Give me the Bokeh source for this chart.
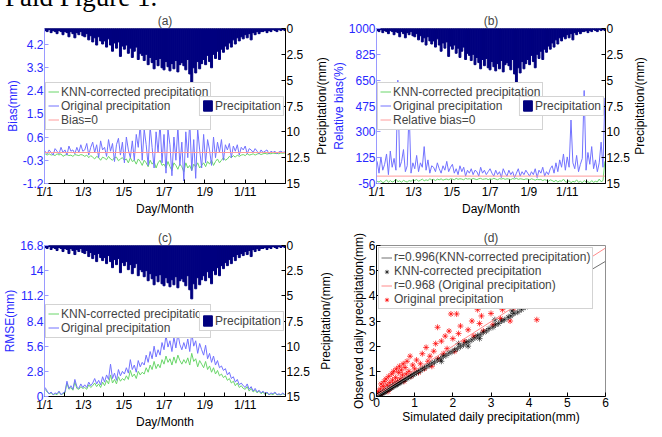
from bokeh.plotting import figure
from bokeh.models import Range1d, LinearAxis, FixedTicker, Legend, LegendItem, Div, Title
from bokeh.layouts import gridplot, column
from bokeh.embed import file_html
from bokeh.resources import INLINE

# ---------------- data ----------------
days = list(range(1, 366, 3))  # sampled days of year
month_starts = [0, 31, 59, 90, 120, 151, 181, 212, 243, 273, 304, 334]
month_labels = ["1/1", "", "1/3", "", "1/5", "", "1/7", "", "1/9", "", "1/11", ""]

precip_ticks = [0, 2.5, 5, 7.5, 10, 12.5, 15]
precip_labels = ["0", "2.5", "5", "7.5", "10", "12.5", "15"]
bias_ticks = [-1.2, -0.3, 0.6, 1.5, 2.4, 3.3, 4.2]
bias_labels = ["-1.2", "-0.3", "0.6", "1.5", "2.4", "3.3", "4.2"]
bias_range = [-1.2, 4.8]
rb_ticks = [-50, 125, 300, 475, 650, 825, 1000]
rb_labels = ["-50", "125", "300", "475", "650", "825", "1000"]
rb_range = [-50, 1000]
rmse_ticks = [0, 2.8, 5.6, 8.4, 11.2, 14, 16.8]
rmse_labels = ["0", "2.8", "5.6", "8.4", "11.2", "14", "16.8"]
rmse_range = [0, 16.8]
scat_ticks = [0, 1, 2, 3, 4, 5, 6]
ref_level = 0

precip = [0.2, 0.3, 0.1, 0.4, 0.2, 0.3, 0.5, 0.2, 0.3, 0.6,
          0.3, 0.4, 0.8, 0.3, 0.5, 0.9, 0.4, 0.6, 0.3, 0.7,
          0.8, 0.5, 1.1, 0.7, 1.3, 0.9, 1.6, 0.8, 1.2, 1.5,
          1.2, 1.8, 1.0, 1.6, 2.2, 1.4, 1.9, 1.3, 2.7, 1.7,
          2.0, 1.6, 2.4, 1.9, 2.8, 2.2, 1.8, 3.0, 2.4, 2.6,
          3.1, 2.5, 3.5, 2.8, 3.3, 3.9, 3.0, 3.6, 2.9, 3.8,
          4.0, 3.2, 3.7, 4.1, 3.4, 3.9, 3.1, 4.2, 3.5, 3.3,
          3.6, 4.0, 3.0, 4.4, 5.3, 3.8, 4.3, 3.2, 3.9, 3.4,
          3.0, 3.5, 2.6, 3.2, 3.8, 2.5, 2.9, 2.2, 3.0, 2.0,
          2.3, 1.7, 2.0, 1.4, 1.8, 1.1, 1.5, 0.9, 1.2, 0.8,
          1.0, 0.6, 0.9, 0.5, 1.1, 0.4, 0.6, 0.3, 0.5, 0.3,
          0.3, 0.2, 0.4, 0.2, 0.3, 0.1, 0.2, 0.3, 0.1, 0.2, 0.1, 0.2]

bias_orig = [0.05, -0.05, 0.1, 0.0, -0.1, 0.15, 0.05, -0.05, 0.2, 0.0,
             0.1, -0.1, 0.25, 0.05, 0.1, -0.05, 0.2, 0.0, 0.3, 0.05,
             0.1, 0.35, -0.1, 0.2, 0.4, 0.0, 0.3, -0.2, 0.45, 0.1,
             0.2, -0.15, 0.5, 0.05, 0.35, -0.35, 0.3, 0.55, -0.1, 0.4,
             -0.4, 0.6, 0.1, -0.2, 0.45, -0.3, 0.7, 0.2, 1.1, -0.3,
             0.9, 0.3, -0.5, 1.0, 0.2, -0.6, 0.8, 0.0, 1.15, -0.4,
             0.7, -0.8, 0.9, 0.3, -0.9, 0.6, -0.3, 1.0, -0.5, 0.4,
             -1.1, 0.8, -0.2, 1.2, -0.7, 0.5, -1.0, 0.9, 0.1, -0.6,
             0.7, -0.4, 0.5, 0.1, -0.5, 0.6, -0.2, 0.4, 0.0, 0.5,
             -0.3, 0.3, 0.1, 0.35, -0.2, 0.25, 0.05, 0.3, -0.1, 0.2,
             0.1, 0.25, -0.05, 0.15, 0.1, 0.0, 0.15, 0.05, -0.05, 0.1,
             0.0, 0.05, 0.1, -0.05, 0.05, 0.0, 0.05, -0.05, 0.02, 0.05, 0.0, 0.03]

bias_knn = [-0.05, -0.1, -0.05, -0.1, -0.08, -0.12, -0.05, -0.1, -0.05, -0.15,
            -0.1, -0.08, -0.12, -0.1, -0.15, -0.08, -0.1, -0.12, -0.08, -0.1,
            -0.15, -0.1, -0.2, -0.12, -0.18, -0.25, -0.15, -0.2, -0.3, -0.18,
            -0.22, -0.28, -0.15, -0.25, -0.3, -0.2, -0.18, -0.32, -0.25, -0.2,
            -0.3, -0.25, -0.4, -0.2, -0.35, -0.3, -0.45, -0.25, -0.35, -0.5,
            -0.3, -0.4, -0.55, -0.3, -0.45, -0.35, -0.6, -0.4, -0.3, -0.5,
            -0.45, -0.6, -0.35, -0.55, -0.7, -0.4, -0.5, -0.65, -0.45, -0.55,
            -0.75, -0.4, -0.6, -0.5, -0.7, -0.45, -0.55, -0.4, -0.6, -0.5,
            -0.4, -0.55, -0.35, -0.45, -0.3, -0.5, -0.35, -0.25, -0.4, -0.3,
            -0.2, -0.3, -0.25, -0.15, -0.2, -0.12, -0.18, -0.1, -0.15, -0.1,
            -0.08, -0.12, -0.05, -0.1, -0.08, -0.05, -0.1, -0.06, -0.04, -0.08,
            -0.05, -0.03, -0.06, -0.04, -0.05, -0.02, -0.04, -0.03, -0.05, -0.02, -0.03, -0.02]

rb_orig = [100, 20, 130, 40, 80, 150, 10, 170, 60, 120,
           40, 650, 60, 100, 180, 30, 70, 450, 20, 90,
           50, 140, 30, 90, 60, 200, 40, 110, 20, 70,
           60, 30, 90, 50, 20, 70, 40, 100, 30, 60,
           80, 20, 50, 10, 70, 30, 60, 0, 40, 20,
           50, 10, 40, 30, 0, 60, 20, 40, 10, 30,
           50, 20, 0, 40, 10, 30, -10, 50, 20, 0,
           40, 10, 30, -10, 20, 50, 0, 30, 10, 40,
           20, 0, 30, 10, 50, -10, 40, 20, 60, 0,
           30, 10, 50, 70, 20, 90, 30, 110, 60, 150,
           40, 130, 60, 380, 90, 50, 140, 30, 80, 120,
           580, 40, 160, 80, 200, 50, 110, 30, 90, 230, 60, 530]

rb_knn = [-35, -40, -30, -45, -38, -25, -42, -30, -40, -35,
          -20, -38, -32, -42, -28, -36, -40, -30, -35, -25,
          -30, -22, -35, -28, -20, -32, -25, -30, -18, -26,
          -22, -30, -20, -25, -18, -28, -22, -20, -25, -18,
          -20, -25, -15, -22, -18, -20, -25, -15, -20, -18,
          -22, -16, -20, -24, -18, -15, -22, -20, -17, -24,
          -18, -22, -15, -20, -25, -17, -20, -16, -22, -18,
          -20, -24, -17, -20, -15, -22, -18, -20, -24, -19,
          -20, -25, -18, -22, -28, -20, -25, -22, -30, -24,
          -28, -35, -25, -30, -38, -28, -40, -32, -35, -20,
          -38, -42, -30, -45, -35, -40, -25, -42, -35, -45,
          -30, -40, -38, -45, -30, -42, -35, -40, -20, -38, -30, 100]

rmse_orig = [1.0, 0.6, 0.3, 0.5, 0.2, 0.4, 0.3, 0.6, 0.2, 0.4, 0.5,
             1.7, 0.9, 1.2, 0.8, 1.9, 1.1, 0.9, 1.4, 1.0,
             1.3, 1.0, 1.6, 1.2, 1.5, 2.0, 1.4, 1.8, 1.3, 2.2,
             1.6, 2.4, 1.9, 3.6, 2.0, 2.6, 1.8, 3.0, 2.3, 2.8,
             2.5, 3.2, 2.6, 4.1, 3.0, 3.5, 2.7, 4.0, 3.3, 3.8,
             3.5, 4.6, 3.8, 5.0, 4.2, 5.6, 4.4, 5.2, 4.6, 6.0,
             5.2, 6.8, 5.5, 6.2, 5.0, 6.6, 5.4, 7.0, 5.8, 5.2,
             6.0, 5.3, 6.4, 5.0, 7.1, 5.6, 6.2, 4.8, 5.9, 5.2,
             4.6, 5.7, 4.2, 4.8, 3.8, 4.5, 3.5, 4.0, 3.2, 3.4,
             2.9, 3.1, 2.4, 2.7, 2.0, 2.2, 1.6, 1.9, 1.3, 1.5,
             1.2, 1.0, 1.4, 0.8, 1.1, 0.6, 0.9, 0.5, 0.7, 0.4,
             0.6, 0.3, 0.5, 0.2, 0.4, 0.3, 0.5, 0.2, 0.3, 0.2, 0.4, 0.2]

rmse_knn = [0.8, 0.5, 0.3, 0.4, 0.2, 0.3, 0.2, 0.5, 0.2, 0.3, 0.4,
            1.5, 0.8, 1.0, 0.7, 1.6, 0.9, 0.8, 1.1, 0.9,
            1.0, 0.8, 1.3, 1.0, 1.2, 1.5, 1.1, 1.4, 1.0, 1.6,
            1.2, 1.8, 1.4, 2.4, 1.5, 1.9, 1.4, 2.2, 1.7, 2.0,
            1.8, 2.3, 1.9, 2.9, 2.2, 2.5, 2.0, 2.8, 2.4, 2.7,
            2.5, 3.2, 2.7, 3.5, 3.0, 3.9, 3.1, 3.6, 3.2, 4.1,
            3.6, 4.5, 3.8, 4.2, 3.5, 4.4, 3.7, 4.6, 4.0, 3.6,
            4.1, 3.7, 4.3, 3.5, 4.8, 3.9, 4.2, 3.3, 4.0, 3.6,
            3.2, 3.9, 3.0, 3.4, 2.7, 3.2, 2.5, 2.9, 2.3, 2.5,
            2.1, 2.3, 1.8, 2.0, 1.5, 1.7, 1.2, 1.5, 1.0, 1.2,
            0.9, 0.8, 1.1, 0.6, 0.9, 0.5, 0.7, 0.4, 0.6, 0.3,
            0.5, 0.2, 0.4, 0.2, 0.3, 0.2, 0.4, 0.2, 0.2, 0.2, 0.3, 0.2]

knn_sim = [0.02, 0.05, 0.08, 0.1, 0.12, 0.15, 0.18, 0.2, 0.22, 0.25, 0.28, 0.3, 0.33, 0.35,
           0.38, 0.4, 0.42, 0.45, 0.48, 0.5, 0.53, 0.55, 0.58, 0.6, 0.63, 0.66, 0.7, 0.73,
           0.76, 0.8, 0.84, 0.88, 0.92, 0.96, 1.0, 1.05, 1.1, 1.15, 1.2, 1.26, 1.32, 1.38,
           1.45, 1.52, 1.6, 1.68, 1.75, 1.82, 1.9, 1.98, 2.05, 2.12, 2.2, 2.28, 2.35, 2.42,
           2.5, 2.58, 2.65, 2.72, 2.8, 2.88, 2.95, 3.05, 3.12, 3.2, 3.28, 3.35, 3.45, 3.52,
           3.6, 3.7, 3.8, 3.9, 4.0, 4.08, 4.18, 4.25, 3.55, 3.1, 2.7, 2.15, 1.7, 2.4, 5.2]
knn_obs = [0.02, 0.04, 0.06, 0.1, 0.09, 0.13, 0.15, 0.19, 0.18, 0.22, 0.25, 0.27, 0.3, 0.31,
           0.35, 0.36, 0.4, 0.41, 0.44, 0.46, 0.48, 0.5, 0.52, 0.56, 0.57, 0.6, 0.63, 0.67,
           0.69, 0.72, 0.77, 0.8, 0.83, 0.88, 0.9, 0.95, 1.0, 1.03, 1.1, 1.13, 1.2, 1.24,
           1.32, 1.36, 1.45, 1.5, 1.6, 1.63, 1.72, 1.78, 1.85, 1.9, 1.98, 2.05, 2.15, 2.18,
           2.25, 2.33, 2.42, 2.45, 2.55, 2.6, 2.7, 2.75, 2.85, 2.9, 3.0, 3.05, 3.15, 3.2,
           3.3, 3.35, 3.45, 3.55, 3.65, 3.7, 3.8, 3.88, 3.4, 3.05, 2.3, 2.1, 1.4, 2.0, 4.75]

orig_sim = [0.02, 0.05, 0.08, 0.1, 0.12, 0.15, 0.18, 0.2, 0.22, 0.25, 0.28, 0.3, 0.32, 0.35,
            0.38, 0.4, 0.42, 0.45, 0.48, 0.5, 0.52, 0.55, 0.58, 0.6, 0.62, 0.65, 0.68, 0.7,
            0.72, 0.75, 0.78, 0.8, 0.85, 0.88, 0.9, 0.95, 1.0, 1.05, 1.1, 1.15, 1.2, 1.25,
            1.3, 1.35, 1.4, 1.45, 1.5, 1.55, 1.6, 1.62, 1.7, 1.75, 1.8, 1.85, 1.9, 1.95,
            2.0, 2.05, 2.1, 2.15, 2.2, 2.3, 2.4, 2.5, 2.55, 2.65, 2.7, 2.75, 2.8, 2.9,
            3.0, 3.05, 3.1, 3.2, 3.25, 3.3, 3.4, 3.46, 3.5, 3.55, 3.6, 3.7, 3.8, 3.9,
            4.0, 4.2, 4.3, 4.45, 4.55, 5.2]
orig_obs = [0.1, 0.2, 0.05, 0.3, 0.5, 0.15, 0.4, 0.6, 0.25, 0.7, 0.45, 0.2, 0.8, 0.55,
            0.35, 0.9, 0.65, 1.0, 0.5, 0.75, 1.1, 0.6, 0.95, 1.2, 0.7, 1.05, 0.85, 1.3,
            0.6, 1.15, 0.9, 1.4, 1.0, 1.6, 0.8, 1.25, 1.1, 1.45, 0.95, 1.3, 1.7, 1.1,
            1.95, 1.4, 1.6, 1.2, 1.8, 2.1, 2.75, 1.5, 2.2, 1.7, 2.4, 1.9, 2.6, 3.28,
            2.3, 1.8, 3.28, 2.5, 2.8, 2.2, 2.65, 3.0, 2.4, 3.45, 2.9, 3.2, 2.6, 3.95,
            3.3, 2.85, 3.6, 3.95, 3.1, 3.45, 3.8, 3.85, 3.0, 4.3, 3.5, 4.1, 3.75, 4.2,
            4.0, 3.05, 4.1, 3.7, 3.6, 4.95]

fit_knn = [0.895, 0.0]   # slope, intercept  (r=0.996)
fit_orig = [0.975, 0.05]  # slope, intercept  (r=0.968)

# ---------------- style ----------------
FONT = "Liberation Sans"
TXT = "12px"
NAVY = "#00007f"
BLUE_TXT = "#2828ff"
BLUE_AXIS = "#9a9aff"
ORIG_C = "#7272ff"
KNN_C = "#6ad66a"
ZERO_C = "#ff9c9c"
PRECIP_LABEL = "Precipitation/(mm)"


def style_axis(ax, color="black", line_color="black"):
    ax.axis_label_text_font = FONT
    ax.axis_label_text_font_size = TXT
    ax.axis_label_text_font_style = "normal"
    ax.axis_label_text_color = color
    ax.major_label_text_font = FONT
    ax.major_label_text_font_size = TXT
    ax.major_label_text_color = color
    ax.axis_line_color = line_color
    ax.major_tick_line_color = line_color
    ax.major_tick_in = 4
    ax.major_tick_out = 0
    ax.minor_tick_line_color = None
    ax.major_label_standoff = 1
    ax.axis_label_standoff = 0


def side_title(text, standoff=0):
    return Title(text=text, align="center", text_font=FONT, text_font_size=TXT,
                 text_font_style="normal", text_color="black", standoff=standoff)


def make_legend(items, loc, margin=1):
    return Legend(items=items, location=loc, label_text_font=FONT,
                  label_text_font_size=TXT, glyph_width=11, glyph_height=13,
                  label_height=13, label_standoff=2, spacing=0, padding=2,
                  margin=margin, border_line_color="#a8a8a8",
                  background_fill_color="white", background_fill_alpha=1.0)


def base_fig(title, w, h, bl, br, bt, bb, xr, yr):
    p = figure(width=w, height=h, x_range=Range1d(*xr), y_range=Range1d(*yr),
               output_backend="svg", toolbar_location=None, title=title,
               min_border_left=bl, min_border_right=br, min_border_top=bt,
               min_border_bottom=bb)
    p.grid.grid_line_color = None
    p.outline_line_color = "#b0b0b0"
    p.title.align = "center"
    p.title.text_font = FONT
    p.title.text_font_size = TXT
    p.title.text_font_style = "normal"
    p.title.standoff = 1
    return p


def time_panel(title, w, h, bl, br, bt, bb, yr, ticks, labels, ylabel):
    p = base_fig(title, w, h, bl, br, bt, bb, (0, 365), yr)
    p.extra_y_ranges = {"precip": Range1d(precip_ticks[-1], precip_ticks[0])}
    xa = p.xaxis[0]
    style_axis(xa)
    xa.axis_label = "Day/Month"
    xa.ticker = FixedTicker(ticks=month_starts)
    xa.major_label_overrides = dict(zip(month_starts, month_labels))
    ya = p.yaxis[0]
    style_axis(ya, BLUE_TXT, BLUE_AXIS)
    ya.axis_label = ylabel
    ya.ticker = FixedTicker(ticks=ticks)
    ya.major_label_overrides = dict(zip(ticks, labels))
    ra = LinearAxis(y_range_name="precip", ticker=FixedTicker(ticks=precip_ticks),
                    major_label_overrides=dict(zip(precip_ticks, precip_labels)))
    style_axis(ra)
    p.add_layout(ra, "right")
    bars = p.vbar(x=days, width=3, top=0, bottom=precip, y_range_name="precip",
                  fill_color=NAVY, line_color=NAVY, line_width=1)
    return p, bars


W1, W2, W3 = 312, 320, 14
H1, H2 = 207, 213
T1, B1 = 17, 32
T2, B2 = 27, 32

# ---------------- (a) ----------------
pa, bars_a = time_panel("(a)", W1, H1, 44, 26, T1, B1, bias_range,
                        bias_ticks, bias_labels, "Bias(mm)")
ka = pa.line(days, bias_knn, line_color=KNN_C, line_width=1)
oa = pa.line(days, bias_orig, line_color=ORIG_C, line_width=1)
za = pa.line([0, 365], [ref_level, ref_level], line_color=ZERO_C, line_width=1)
pa.add_layout(make_legend([LegendItem(label="KNN-corrected precipitation", renderers=[ka]),
                           LegendItem(label="Original precipitation", renderers=[oa]),
                           LegendItem(label="Bias=0", renderers=[za])], "left"))
pa.add_layout(make_legend([LegendItem(label="Precipitation", renderers=[bars_a])], "right"))

# ---------------- (b) ----------------
pb, bars_b = time_panel("(b)", W2, H1, 56, 26, T1, B1, rb_range,
                        rb_ticks, rb_labels, "Relative bias(%)")
pb.add_layout(side_title(PRECIP_LABEL), "left")   # right-axis label of (a)
kb = pb.line(days, rb_knn, line_color=KNN_C, line_width=1)
ob = pb.line(days, rb_orig, line_color=ORIG_C, line_width=1)
zb = pb.line([0, 365], [ref_level, ref_level], line_color=ZERO_C, line_width=1)
pb.add_layout(make_legend([LegendItem(label="KNN-corrected precipitation", renderers=[kb]),
                           LegendItem(label="Original precipitation", renderers=[ob]),
                           LegendItem(label="Relative bias=0", renderers=[zb])], "left"))
pb.add_layout(make_legend([LegendItem(label="Precipitation", renderers=[bars_b])], "right"))

# right-axis label of (b)
pr = figure(width=W3, height=H1, output_backend="svg", toolbar_location=None,
            x_axis_location=None, y_axis_location=None,
            min_border_left=W3 - 1, min_border_right=0, min_border_top=T1,
            min_border_bottom=B1)
pr.grid.grid_line_color = None
pr.outline_line_color = None
pr.add_layout(side_title(PRECIP_LABEL), "left")

# ---------------- (c) ----------------
pc, bars_c = time_panel("(c)", W1, H2, 44, 26, T2, B2, rmse_range,
                        rmse_ticks, rmse_labels, "RMSE(mm)")
kc = pc.line(days, rmse_knn, line_color=KNN_C, line_width=1)
oc = pc.line(days, rmse_orig, line_color=ORIG_C, line_width=1)
pc.add_layout(make_legend([LegendItem(label="KNN-corrected precipitation", renderers=[kc]),
                           LegendItem(label="Original precipitation", renderers=[oc])], "left"))
pc.add_layout(make_legend([LegendItem(label="Precipitation", renderers=[bars_c])], "right"))

# ---------------- (d) ----------------
pdd = base_fig("(d)", W2, H2, 56, 26, T2, B2, (scat_ticks[0], scat_ticks[-1]),
               (scat_ticks[0], scat_ticks[-1]))
pdd.outline_line_color = "#909090"
for ax in (pdd.xaxis[0], pdd.yaxis[0]):
    style_axis(ax)
    ax.ticker = FixedTicker(ticks=scat_ticks)
pdd.xaxis[0].axis_label = "Simulated daily precipitation(mm)"
pdd.yaxis[0].axis_label = "Observed daily precipitation(mm)"
pdd.add_layout(side_title(" "), "left")            # gap
pdd.add_layout(side_title(PRECIP_LABEL), "left")   # right-axis label of (c)
ro = pdd.scatter(orig_sim, orig_obs, marker="asterisk", size=6, line_color="#ff0000",
                 line_alpha=0.7, line_width=1)
rk = pdd.scatter(knn_sim, knn_obs, marker="asterisk", size=6, line_color="#000000",
                 line_alpha=0.6, line_width=1)
fx = [scat_ticks[0], scat_ticks[-1]]
lk = pdd.line(fx, [fit_knn[0] * v + fit_knn[1] for v in fx], line_color="#707070", line_width=1)
lo = pdd.line(fx, [fit_orig[0] * v + fit_orig[1] for v in fx], line_color="#ff8a8a", line_width=1)
pdd.add_layout(make_legend([LegendItem(label="r=0.996(KNN-corrected precipitation)", renderers=[lk]),
                            LegendItem(label="KNN-corrected precipitation", renderers=[rk]),
                            LegendItem(label="r=0.968 (Original precipitation)", renderers=[lo]),
                            LegendItem(label="Original precipitation", renderers=[ro])],
                           "top_left", margin=2))

# caption cut off at the top edge, drawn into the page margin above the charts
caption = Div(text=('<div style="margin-top:-26px;position:relative;top:-11px;'
                    'font-family:\'Liberation Serif\';'
                    'font-size:27px;line-height:30px;white-space:nowrap;color:black;">'
                    'Paid Figure 1.</div>'),
              width=300, height=1,
              styles={"overflow": "visible", "position": "relative", "z-index": "5"})

grid = gridplot([[pa, pb, pr], [pc, pdd, None]], toolbar_location=None)
page = column(caption, grid)
open("out.html", "w").write(file_html(page, INLINE))
